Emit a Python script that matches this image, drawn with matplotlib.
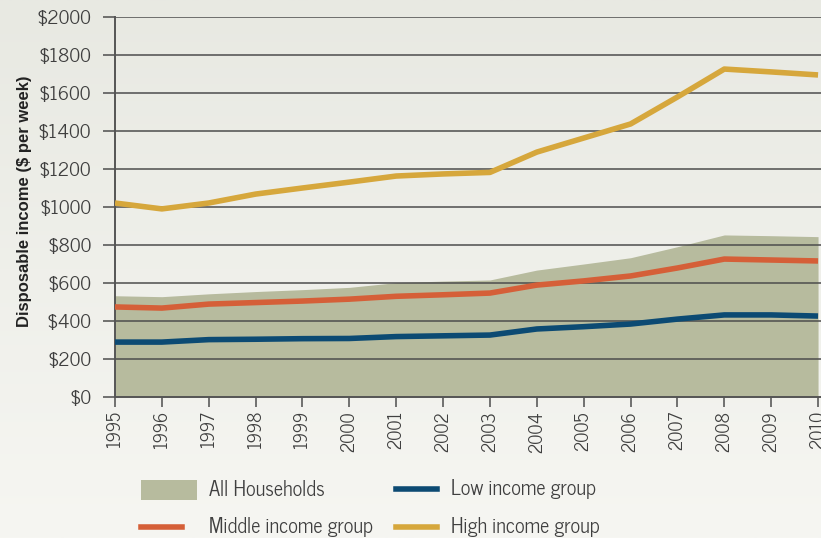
import matplotlib
matplotlib.use("Agg")
import matplotlib.pyplot as plt
from matplotlib.patches import Rectangle
from matplotlib.lines import Line2D
from matplotlib.colors import LinearSegmentedColormap
import numpy as np

NARROW = ["News Cycle", "DejaVu Sans"]

years = list(range(1995, 2011))
all_households = [533, 528, 543, 555, 565, 577, 602, 610, 616, 668, 700, 733, 791, 853, 849, 844]
low_income = [289, 289, 302, 304, 307, 308, 318, 322, 326, 358, 370, 384, 410, 432, 432, 426]
middle_income = [474, 468, 489, 497, 505, 515, 530, 538, 547, 589, 611, 637, 679, 726, 721, 716]
high_income = [1021, 990, 1021, 1068, 1100, 1131, 1163, 1174, 1182, 1289, 1363, 1437, 1579, 1726, 1711, 1695]
yticks = [0, 200, 400, 600, 800, 1000, 1200, 1400, 1600, 1800, 2000]

FILL = "#b7bb9e"; LOW = "#0c4a73"; MID = "#d55f38"; HIGH = "#d6a73c"
GRID = "#4d4d4d"; TXT = "#3f3f3f"

fig = plt.figure(figsize=(8.21, 5.38), dpi=100)

# background gradient
bg = fig.add_axes([0, 0, 1, 1], zorder=-5)
grad = np.linspace(0, 1, 256).reshape(-1, 1)
cmap = LinearSegmentedColormap.from_list("bg", ["#e8e9e2", "#f6f6f2"])
bg.imshow(grad, aspect="auto", cmap=cmap, extent=[0, 1, 0, 1], origin="upper")
bg.axis("off")

ax = fig.add_axes([115/821, 1-397/538, 706/821, 380/538])
ax.patch.set_alpha(0)
ax.fill_between(years, 0, all_households, color=FILL, lw=0, zorder=1)
for y in yticks[1:]:
    ax.axhline(y, color=GRID, lw=1.1, zorder=2)
ax.plot(years, low_income, color=LOW, lw=4, zorder=3, solid_capstyle="butt")
ax.plot(years, middle_income, color=MID, lw=4, zorder=3, solid_capstyle="butt")
ax.plot(years, high_income, color=HIGH, lw=4, zorder=3, solid_capstyle="butt")

ax.set_xlim(1995, 1995 + 706/46.87)
ax.set_ylim(0, 2000)
ax.set_xticks(years)
ax.set_xticklabels([str(y) for y in years], rotation=90, fontsize=13, color=TXT, family=NARROW)
ax.set_yticks(yticks)
ax.set_yticklabels(["$%d" % v for v in yticks], fontsize=14, color=TXT, family=NARROW)
ax.tick_params(axis="y", length=9, width=1.1, color=GRID, pad=8)
ax.tick_params(axis="x", length=7, width=1.1, color=GRID, pad=3)
for s in ["top", "right"]:
    ax.spines[s].set_visible(False)
ax.spines["left"].set_color("#555555"); ax.spines["left"].set_linewidth(1.4)
ax.spines["bottom"].set_color("#555555"); ax.spines["bottom"].set_linewidth(1.4)
ax.set_ylabel("Disposable income ($ per week)", fontsize=12, fontweight="bold",
              color="#222222", family="Liberation Sans")
ax.yaxis.set_label_coords(-0.118, 0.515)

# legend drawn by hand
W, H = 821.0, 538.0
def fx(x): return x / W
def fy(y): return 1 - y / H
LFS = 14.6
fig.add_artist(Rectangle((fx(141), fy(500)), 56/W, 20/H, transform=fig.transFigure, fc=FILL, ec="none"))
fig.text(fx(209), fy(490), "All Households", fontsize=LFS, color=TXT, va="center", family=NARROW)
fig.add_artist(Line2D([fx(396), fx(437)], [fy(489), fy(489)], transform=fig.transFigure, color=LOW, lw=4))
fig.text(fx(451), fy(489), "Low income group", fontsize=LFS, color=TXT, va="center", family=NARROW)
fig.add_artist(Line2D([fx(141), fx(182)], [fy(527), fy(527)], transform=fig.transFigure, color=MID, lw=4))
fig.text(fx(209), fy(527), "Middle income group", fontsize=LFS, color=TXT, va="center", family=NARROW)
fig.add_artist(Line2D([fx(396), fx(437)], [fy(527), fy(527)], transform=fig.transFigure, color=HIGH, lw=4))
fig.text(fx(451), fy(527), "High income group", fontsize=LFS, color=TXT, va="center", family=NARROW)

fig.savefig("out.png", dpi=100)
